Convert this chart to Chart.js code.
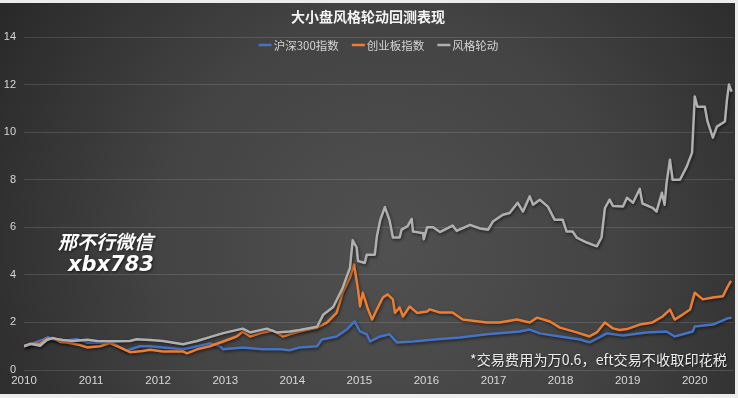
<!DOCTYPE html>
<html>
<head>
<meta charset="utf-8">
<script src="https://cdn.jsdelivr.net/npm/chart.js@4/dist/chart.umd.min.js"></script>
<style>
html,body{margin:0;padding:0;background:#ececec;width:738px;height:398px;overflow:hidden;}
#wrap{position:absolute;left:0;top:3px;width:735px;height:391px;}
</style>
</head>
<body>
<div id="wrap"><canvas id="c"></canvas></div>
<script>
// ---------- data (dates as fractional years) ----------
const chartTitle = '大小盘风格轮动回测表现';
const seriesNames = ['沪深300指数', '创业板指数', '风格轮动'];
const xTickLabels = ['2010','2011','2012','2013','2014','2015','2016','2017','2018','2019','2020'];
const yTickValues = [0,2,4,6,8,10,12,14];
const watermarkLines = ['邢不行微信', 'xbx783'];
const footnote = '*交易费用为万0.6，eft交易不收取印花税';

const hs300Dates = [2010.00,2010.09,2010.28,2010.36,2010.43,2010.58,2010.79,2010.94,2011.09,2011.33,2011.43,2011.53,2011.73,2011.88,2012.07,2012.37,2012.58,2012.77,2012.92,2012.97,2013.26,2013.56,2013.82,2013.96,2014.11,2014.37,2014.44,2014.66,2014.81,2014.93,2015.01,2015.11,2015.16,2015.31,2015.45,2015.56,2015.80,2016.20,2016.50,2016.90,2017.39,2017.54,2017.69,2017.99,2018.29,2018.43,2018.69,2018.93,2019.28,2019.58,2019.70,2019.97,2020.00,2020.27,2020.49,2020.55];
const hs300Values = [1.00,1.08,1.28,1.38,1.28,1.22,1.30,1.15,1.15,1.15,0.95,0.82,1.00,1.00,0.95,0.87,1.00,1.12,1.00,0.87,0.95,0.87,0.87,0.83,0.95,1.00,1.28,1.41,1.70,2.04,1.62,1.50,1.20,1.41,1.50,1.16,1.20,1.30,1.37,1.50,1.62,1.70,1.54,1.41,1.28,1.16,1.54,1.45,1.58,1.62,1.41,1.62,1.83,1.91,2.17,2.20];

const gemDates = [2010.00,2010.13,2010.24,2010.34,2010.43,2010.54,2010.64,2010.83,2010.94,2011.13,2011.28,2011.43,2011.58,2011.77,2011.88,2012.07,2012.37,2012.43,2012.58,2012.77,2012.97,2013.17,2013.26,2013.37,2013.56,2013.71,2013.86,2013.96,2014.11,2014.37,2014.52,2014.66,2014.75,2014.86,2014.92,2014.98,2015.01,2015.05,2015.13,2015.19,2015.26,2015.35,2015.42,2015.50,2015.53,2015.60,2015.65,2015.75,2015.86,2016.01,2016.05,2016.20,2016.39,2016.54,2016.90,2017.09,2017.35,2017.54,2017.65,2017.84,2017.99,2018.24,2018.43,2018.54,2018.66,2018.78,2018.88,2018.99,2019.18,2019.37,2019.52,2019.63,2019.70,2019.82,2019.93,2020.00,2020.12,2020.27,2020.42,2020.49,2020.54];
const gemValues = [1.00,1.10,1.10,1.30,1.35,1.18,1.16,1.05,0.95,1.00,1.13,0.95,0.75,0.80,0.85,0.78,0.78,0.70,0.87,1.00,1.20,1.41,1.62,1.41,1.58,1.66,1.41,1.50,1.62,1.78,2.00,2.40,3.25,3.90,4.43,3.38,2.67,3.25,2.54,2.12,2.54,3.05,3.18,2.97,2.40,2.63,2.25,2.67,2.40,2.46,2.55,2.42,2.42,2.12,2.00,2.00,2.12,2.00,2.20,2.04,1.78,1.58,1.41,1.58,2.00,1.75,1.68,1.72,1.91,2.00,2.25,2.54,2.12,2.33,2.54,3.25,2.97,3.05,3.10,3.50,3.75];

const rotDates = [2010.00,2010.09,2010.24,2010.34,2010.43,2010.49,2010.58,2010.73,2010.94,2011.09,2011.39,2011.58,2011.68,2011.88,2012.07,2012.37,2012.58,2012.77,2012.97,2013.26,2013.37,2013.62,2013.77,2013.96,2014.11,2014.37,2014.46,2014.61,2014.75,2014.86,2014.90,2014.96,2014.98,2015.08,2015.11,2015.23,2015.26,2015.31,2015.38,2015.45,2015.50,2015.60,2015.63,2015.72,2015.78,2015.80,2015.95,2015.96,2016.01,2016.10,2016.20,2016.39,2016.45,2016.65,2016.80,2016.92,2016.99,2017.14,2017.24,2017.36,2017.44,2017.54,2017.59,2017.69,2017.81,2017.91,2018.03,2018.09,2018.18,2018.24,2018.39,2018.54,2018.61,2018.66,2018.73,2018.78,2018.93,2018.99,2019.08,2019.18,2019.22,2019.37,2019.43,2019.51,2019.55,2019.58,2019.63,2019.67,2019.78,2019.88,2019.96,2020.00,2020.04,2020.15,2020.19,2020.27,2020.33,2020.45,2020.48,2020.51,2020.55];
const rotValues = [1.00,1.10,1.02,1.26,1.34,1.30,1.26,1.22,1.27,1.22,1.21,1.22,1.29,1.26,1.22,1.08,1.22,1.38,1.55,1.74,1.58,1.74,1.58,1.62,1.68,1.82,2.32,2.65,3.45,4.30,5.45,5.15,4.58,4.50,4.85,4.85,5.60,6.30,6.85,6.30,5.57,5.57,5.90,6.05,6.35,5.82,5.75,5.50,6.00,6.00,5.80,6.07,5.85,6.10,5.95,5.90,6.24,6.53,6.60,7.03,6.66,7.30,6.95,7.16,6.87,6.32,6.32,5.82,5.82,5.57,5.36,5.20,5.57,6.80,7.16,6.90,6.87,7.24,7.03,7.62,7.00,6.82,6.66,7.45,6.95,7.87,8.84,8.00,8.00,8.55,9.14,11.50,11.07,11.07,10.45,9.77,10.23,10.45,11.37,12.00,11.70];

const seriesColors = ['#4472C4', '#ED7D31', '#B0B0B0'];

function pts(xs, ys){ return xs.map((x,i)=>({x:x, y:ys[i]})); }

const bgPlugin = {
  id:'bg',
  beforeDraw(chart){
    const ctx = chart.ctx, w = chart.width, h = chart.height;
    ctx.save();
    const g = ctx.createRadialGradient(w*0.53, h*0.62, 10, w*0.53, h*0.62, w*0.62);
    g.addColorStop(0, '#505050');
    g.addColorStop(0.5, '#434343');
    g.addColorStop(1, '#292929');
    ctx.fillStyle = g;
    ctx.fillRect(0,0,w,h);
    ctx.restore();
  }
};

const shadowPlugin = {
  id:'lineShadow',
  beforeDatasetsDraw(chart){
    const ctx = chart.ctx;
    ctx.save();
    ctx.shadowColor = 'rgba(0,0,0,0.55)';
    ctx.shadowBlur = 3;
    ctx.shadowOffsetX = 1;
    ctx.shadowOffsetY = 1.5;
  },
  afterDatasetsDraw(chart){ chart.ctx.restore(); }
};

const overlayPlugin = {
  id:'overlay',
  afterDraw(chart){
    const ctx = chart.ctx, ca = chart.chartArea;
    ctx.save();
    // legend
    ctx.font = '11.5px "Noto Sans CJK SC", sans-serif';
    ctx.textBaseline = 'middle';
    const lineLen = 13, gap = 2, itemGap = 13;
    const ds = chart.data.datasets;
    const widths = ds.map(d => lineLen + gap + ctx.measureText(d.label).width);
    const total = widths.reduce((a,b)=>a+b,0) + itemGap*(ds.length-1);
    let x = (ca.left + ca.right)/2 - total/2;
    const ly = ca.top + 8;
    ds.forEach((d,i)=>{
      ctx.strokeStyle = d.borderColor;
      ctx.lineWidth = 2.5;
      ctx.beginPath(); ctx.moveTo(x, ly); ctx.lineTo(x+lineLen, ly); ctx.stroke();
      ctx.fillStyle = '#d4d4d4';
      ctx.textAlign = 'left';
      ctx.fillText(d.label, x + lineLen + gap, ly+0.5);
      x += widths[i] + itemGap;
    });
    // watermark
    ctx.shadowColor = 'rgba(0,0,0,0.6)';
    ctx.shadowBlur = 3;
    ctx.shadowOffsetX = 1; ctx.shadowOffsetY = 1;
    ctx.fillStyle = '#ffffff';
    ctx.textAlign = 'left';
    ctx.font = 'italic bold 19px "Noto Sans CJK SC", sans-serif';
    ctx.fillText(watermarkLines[0], 58, 239);
    ctx.font = 'italic bold 21px "DejaVu Sans", sans-serif';
    ctx.fillText(watermarkLines[1], 68, 263);
    // footnote
    ctx.shadowBlur = 2;
    ctx.font = '14.2px "Noto Sans CJK SC", sans-serif';
    ctx.fillStyle = '#ececec';
    ctx.textAlign = 'right';
    ctx.fillText(footnote, 727, 357);
    ctx.restore();
  }
};

new Chart(document.getElementById('c'), {
  type:'line',
  data:{
    datasets:[
      {label:seriesNames[0], data:pts(hs300Dates, hs300Values), borderColor:seriesColors[0], backgroundColor:seriesColors[0], order:2},
      {label:seriesNames[1], data:pts(gemDates, gemValues), borderColor:seriesColors[1], backgroundColor:seriesColors[1], order:1},
      {label:seriesNames[2], data:pts(rotDates, rotValues), borderColor:seriesColors[2], backgroundColor:seriesColors[2], order:0}
    ]
  },
  options:{
    responsive:true,
    maintainAspectRatio:false,
    animation:false,
    devicePixelRatio:1,
    layout:{padding:{left:3,right:2,top:0,bottom:3}},
    elements:{line:{borderWidth:2.5, tension:0, borderJoinStyle:'round'}, point:{radius:0}},
    plugins:{
      legend:{display:false},
      tooltip:{enabled:false},
      title:{display:true, text:chartTitle, color:'#f4f4f4',
        font:{family:'"Noto Sans CJK SC", sans-serif', size:14, weight:'bold'},
        padding:{top:5.6, bottom:11.6}}
    },
    scales:{
      x:{type:'linear', min:2010, max:2020.57,
        grid:{display:false, drawTicks:false},
        border:{display:false},
        afterBuildTicks(s){ s.ticks = xTickLabels.map(v=>({value:+v})); },
        afterFit(s){ s.height = 21; },
        ticks:{color:'#d8d8d8', padding:4, maxRotation:0, autoSkip:false,
          font:{family:'"Liberation Sans", sans-serif', size:11.5},
          callback:(v)=>String(v)}
      },
      y:{type:'linear', min:0, max:14,
        afterBuildTicks(s){ s.ticks = yTickValues.map(v=>({value:v})); },
        afterFit(s){ s.width = 21; },
        grid:{color:'rgba(255,255,255,0.13)', drawTicks:false, lineWidth:1},
        border:{display:false},
        ticks:{color:'#d8d8d8', padding:8,
          font:{family:'"Liberation Sans", sans-serif', size:11}}
      }
    }
  },
  plugins:[bgPlugin, shadowPlugin, overlayPlugin]
});
</script>
</body>
</html>
